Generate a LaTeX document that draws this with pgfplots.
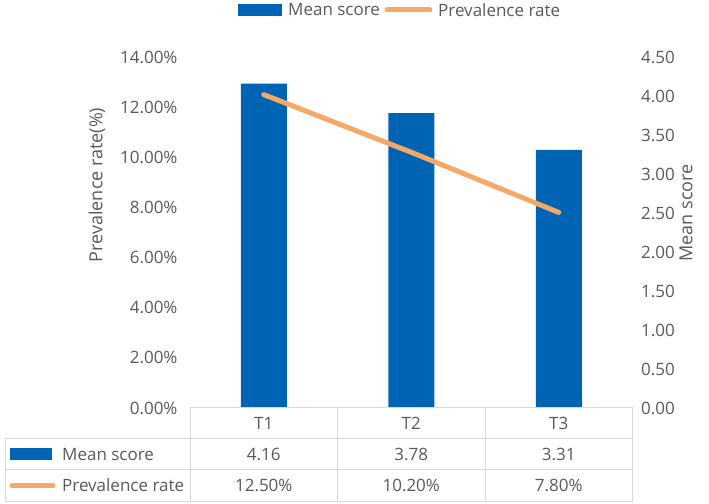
\documentclass[border=0pt]{standalone}
\usepackage{pgfplots}
\pgfplotsset{compat=1.18}
\usepackage{fontspec}
\setmainfont{Open Sans}
\definecolor{barblue}{HTML}{0064B4}
\definecolor{lineorange}{HTML}{F6A866}
\definecolor{txtgray}{HTML}{595959}
\definecolor{gridgray}{HTML}{D9D9D9}
\begin{document}
\begin{tikzpicture}[x=1pt,y=1pt,font=\fontsize{17}{20}\selectfont]
\useasboundingbox (0,0) rectangle (709,503);
% bars on right axis
\begin{axis}[
  at={(190pt,95pt)}, anchor=south west,
  scale only axis, width=442.5pt, height=351pt,
  xmin=-0.5, xmax=2.5, ymin=0, ymax=4.5,
  axis y line*=right, axis x line=none,
  axis line style={draw=none}, major tick length=0pt,
  xtick=\empty,
  /pgf/number format/assume math mode=true,
  ytick={0,0.5,1,1.5,2,2.5,3,3.5,4,4.5},
  yticklabel={\pgfmathprintnumber[fixed,fixed zerofill,precision=2,assume math mode=true]{\tick}},
  yticklabel style={font=\fontsize{17}{20}\selectfont, text=txtgray, anchor=west, xshift=5pt},
  clip=false
]
\addplot[ybar, bar width=46pt, fill=barblue, draw=none] coordinates {(0,4.16) (1,3.78) (2,3.31)};
\end{axis}
% line on left axis
\begin{axis}[
  at={(190pt,95pt)}, anchor=south west,
  scale only axis, width=442.5pt, height=351pt,
  xmin=-0.5, xmax=2.5, ymin=0, ymax=14,
  axis y line*=left, axis x line=none,
  axis line style={draw=none}, major tick length=0pt,
  xtick=\empty,
  /pgf/number format/assume math mode=true,
  ytick={0,2,4,6,8,10,12,14},
  yticklabel={\pgfmathprintnumber[fixed,fixed zerofill,precision=2,assume math mode=true]{\tick}\%},
  yticklabel style={font=\fontsize{17}{20}\selectfont, text=txtgray, anchor=east, xshift=-9pt},
  clip=false
]
\addplot[lineorange, line width=5pt, line cap=round] coordinates {(0,12.5) (1,10.2) (2,7.8)};
\end{axis}
% axis titles
\node[rotate=90, text=txtgray, font=\fontsize{18}{21}\selectfont] at (97,318) {Prevalence rate(\%)};
\node[rotate=90, text=txtgray, font=\fontsize{18}{21}\selectfont] at (686,290) {Mean score};
% top legend
\fill[barblue] (238,487) rectangle (282,499);
\node[anchor=west, text=txtgray, inner sep=0pt] at (288,493) {Mean score};
\draw[lineorange, line width=5pt, line cap=round] (387,493) -- (430,493);
\node[anchor=west, text=txtgray, inner sep=0pt] at (438,493) {Prevalence rate};
% data table
\begin{scope}[draw=gridgray, line width=1pt]
\draw (190,95) rectangle (632.5,64);
\draw (337.5,95) -- (337.5,64);
\draw (485,95) -- (485,64);
\draw (5,64) rectangle (632.5,2);
\draw (5,33) -- (632.5,33);
\draw (190,64) -- (190,2);
\draw (337.5,64) -- (337.5,2);
\draw (485,64) -- (485,2);
\end{scope}
\node[text=txtgray] at (263.75,79.5) {T1};
\node[text=txtgray] at (411.25,79.5) {T2};
\node[text=txtgray] at (558.75,79.5) {T3};
\fill[barblue] (10,42.5) rectangle (52,54.5);
\node[anchor=west, text=txtgray, inner sep=0pt] at (62,48.5) {Mean score};
\draw[lineorange, line width=5pt, line cap=round] (12,17.5) -- (53,17.5);
\node[anchor=west, text=txtgray, inner sep=0pt] at (62,17.5) {Prevalence rate};
\node[text=txtgray] at (263.75,48.5) {4.16};
\node[text=txtgray] at (411.25,48.5) {3.78};
\node[text=txtgray] at (558.75,48.5) {3.31};
\node[text=txtgray] at (263.75,17.5) {12.50\%};
\node[text=txtgray] at (411.25,17.5) {10.20\%};
\node[text=txtgray] at (558.75,17.5) {7.80\%};
\end{tikzpicture}
\end{document}
